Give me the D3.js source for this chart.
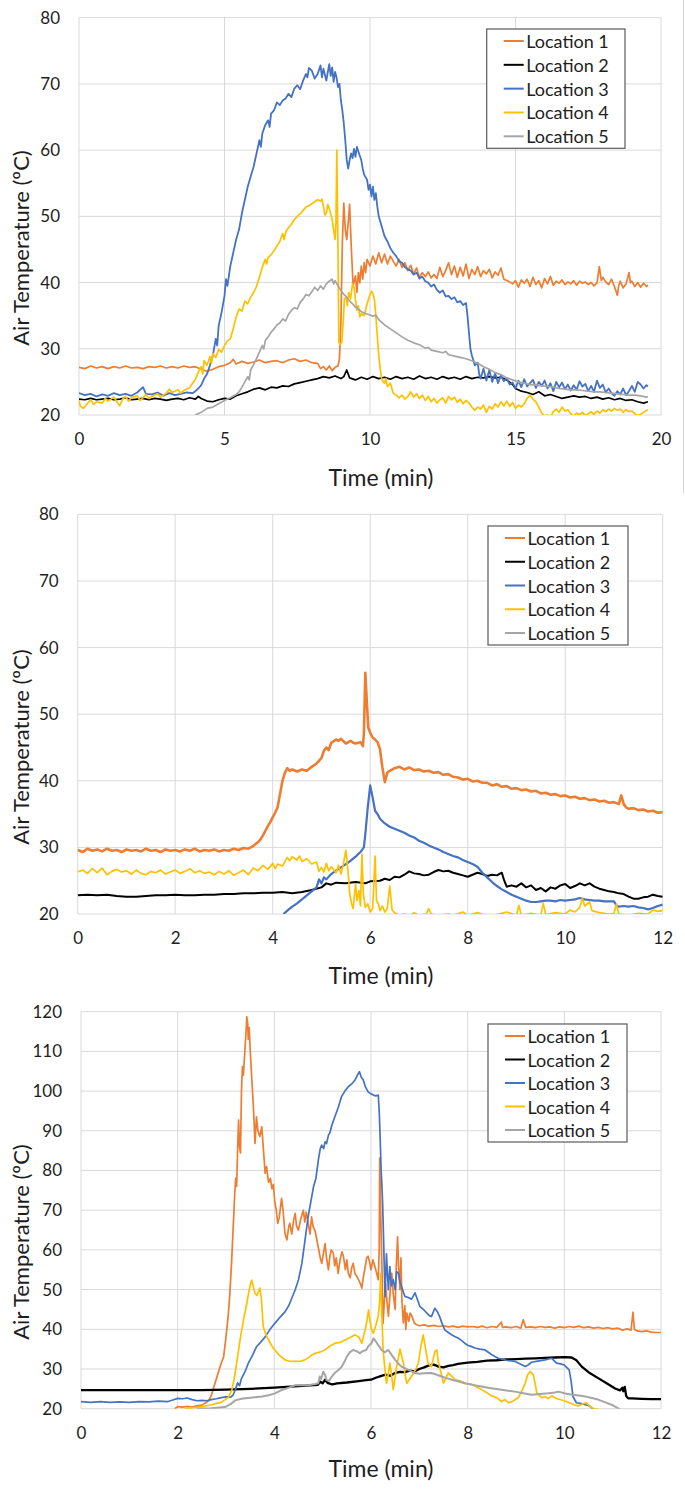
<!DOCTYPE html>
<html><head><meta charset="utf-8">
<script src="https://cdn.jsdelivr.net/npm/d3@7"></script>
<style>
body{margin:0;background:#fff}
svg{display:block}
text{font-family:Lato,"Open Sans",sans-serif;fill:#1e1e1e}
</style>
</head><body>
<svg id="c" width="685" height="1491"></svg>
<script>
// ---------- shared labels ----------
const seriesNames = ["Location 1","Location 2","Location 3","Location 4","Location 5"];
const seriesColors = ["#ED7D31","#000000","#4472C4","#FFC000","#A5A5A5"];
const xTitle = "Time (min)";
const yTitle = "Air Temperature (ºC)";

// ---------- chart 1 ----------
const c1XTicks = [0,5,10,15,20];
const c1YTicks = [20,30,40,50,60,70,80];
const c1L1 = [[0,27.2],[0.2,27.0],[0.4,27.4],[0.6,27.1],[0.8,27.3],[1.0,27.0],[1.2,27.3],[1.4,27.1],[1.6,27.4],[1.8,27.1],[2.0,27.2],[2.2,27.0],[2.4,27.3],[2.6,27.2],[2.8,27.4],[3.0,27.1],[3.2,27.3],[3.4,27.1],[3.6,27.4],[3.8,27.2],[4.0,27.3],[4.2,26.9],[4.4,26.6],[4.6,26.9],[4.8,27.3],[5.0,27.5],[5.2,27.9],[5.3,28.4],[5.4,27.7],[5.6,28.1],[5.8,27.8],[6.0,28.0],[6.2,28.3],[6.4,27.9],[6.6,28.1],[6.8,28.2],[7.0,27.9],[7.2,28.3],[7.4,28.5],[7.6,28.1],[7.8,28.3],[8.0,27.9],[8.2,27.8],[8.3,27.0],[8.4,27.3],[8.5,26.8],[8.6,27.4],[8.7,26.7],[8.8,27.2],[8.9,27.4],[8.95,28.5],[9.0,34],[9.05,46],[9.1,52],[9.15,48],[9.2,46.5],[9.25,49],[9.3,51.8],[9.35,46],[9.42,39.5],[9.5,41],[9.55,38.5],[9.6,41.5],[9.65,40],[9.7,42.5],[9.75,40.5],[9.8,43],[9.85,41.5],[9.9,43.5],[10.0,42.5],[10.1,44],[10.2,42.8],[10.3,44.5],[10.4,43],[10.5,44.3],[10.6,42.8],[10.7,44],[10.8,43.2],[10.9,42.5],[11.0,43.5],[11.1,42.3],[11.2,43],[11.3,41.8],[11.4,42.6],[11.5,41.3],[11.6,42.2],[11.7,40.8],[11.8,41.5],[11.9,40.9],[12.0,41.6],[12.1,40.7],[12.2,41.2],[12.3,40.6],[12.4,42.3],[12.5,40.9],[12.6,41.8],[12.7,43],[12.8,41.2],[12.9,42.5],[13.0,40.8],[13.1,42.3],[13.2,41],[13.3,42.8],[13.4,40.6],[13.5,42],[13.6,41.2],[13.7,42.4],[13.8,40.9],[13.9,41.8],[14.0,41.3],[14.1,42],[14.2,40.7],[14.3,41.6],[14.4,41.1],[14.5,42.2],[14.6,40.5],[14.7,40.3],[14.8,40.1],[14.9,39.8],[15.0,40.3],[15.1,39.3],[15.2,40.4],[15.3,39.9],[15.4,40.5],[15.5,39.4],[15.6,40.8],[15.7,39.7],[15.8,40.3],[15.9,39.2],[16.0,40.6],[16.1,39.8],[16.2,40.9],[16.3,39.6],[16.4,40.2],[16.5,39.9],[16.6,40.4],[16.7,39.7],[16.8,40.1],[16.9,39.8],[17.0,40.3],[17.1,39.6],[17.2,40.2],[17.3,39.9],[17.4,40.1],[17.5,39.7],[17.6,40.0],[17.7,39.5],[17.8,39.9],[17.88,42.4],[17.95,40.3],[18.0,40.8],[18.1,40.1],[18.2,39.7],[18.3,40.5],[18.4,39.4],[18.5,38.1],[18.55,39.6],[18.6,40.2],[18.7,39.2],[18.8,39.8],[18.9,41.5],[18.95,40],[19.0,40.2],[19.1,39.4],[19.2,40],[19.3,39.3],[19.4,39.9],[19.5,39.4],[19.55,39.6]];
const c1L2 = [[0,22.4],[0.2,22.3],[0.4,22.5],[0.6,22.3],[0.8,22.4],[1.0,22.5],[1.2,22.3],[1.4,22.4],[1.6,22.6],[1.8,22.3],[2.0,22.4],[2.2,22.5],[2.4,22.3],[2.6,22.5],[2.8,22.4],[3.0,22.2],[3.2,22.4],[3.4,22.5],[3.6,22.3],[3.8,22.6],[4.0,22.4],[4.1,22.8],[4.2,22.5],[4.4,22.1],[4.6,22.0],[4.8,22.3],[5.0,22.5],[5.2,22.4],[5.4,22.9],[5.6,23.2],[5.8,23.5],[6.0,23.9],[6.2,24.1],[6.4,23.8],[6.6,24.2],[6.8,24.1],[7.0,24.4],[7.2,24.3],[7.4,24.7],[7.6,24.9],[7.8,25.1],[8.0,25.3],[8.2,25.5],[8.4,25.8],[8.6,25.6],[8.8,25.9],[9.0,25.5],[9.1,25.8],[9.2,26.8],[9.3,25.6],[9.5,25.3],[9.7,25.7],[9.9,25.4],[10.1,25.8],[10.3,25.5],[10.5,25.7],[10.7,25.4],[10.9,25.8],[11.1,25.5],[11.3,25.7],[11.5,25.4],[11.7,25.9],[11.9,25.5],[12.1,25.7],[12.3,25.4],[12.5,25.8],[12.7,25.5],[12.9,25.7],[13.1,25.4],[13.3,25.8],[13.5,25.5],[13.7,25.7],[13.9,25.6],[14.1,25.8],[14.3,25.6],[14.5,25.7],[14.7,25.3],[14.9,24.6],[15.0,24.0],[15.2,23.6],[15.4,23.4],[15.6,23.1],[15.8,23.5],[16.0,22.9],[16.2,23.1],[16.4,22.8],[16.6,22.5],[16.8,22.7],[17.0,22.9],[17.2,22.7],[17.4,22.8],[17.6,22.5],[17.8,22.7],[18.0,22.4],[18.2,22.6],[18.4,22.3],[18.6,22.5],[18.8,22.2],[19.0,22.3],[19.2,22.0],[19.4,21.8],[19.55,22.0]];
const c1L3 = [[0,23.3],[0.2,23.0],[0.4,23.2],[0.6,22.8],[0.8,23.1],[1.0,22.9],[1.2,23.3],[1.4,23.0],[1.6,23.2],[1.8,22.9],[2.0,23.4],[2.2,24.2],[2.3,23.2],[2.5,23.1],[2.7,23.4],[2.9,22.9],[3.1,23.3],[3.3,23.0],[3.5,23.2],[3.7,23.4],[3.9,23.3],[4.0,23.6],[4.1,24.0],[4.2,24.5],[4.3,25.5],[4.4,26.2],[4.5,27.5],[4.6,29.0],[4.7,31.5],[4.75,30.5],[4.8,33.5],[4.9,35.5],[5.0,38],[5.05,40.5],[5.1,39.5],[5.2,42.5],[5.3,44.5],[5.4,46.5],[5.5,48],[5.6,50.5],[5.7,52.5],[5.8,54.5],[5.9,56],[6.0,57.5],[6.1,59.5],[6.2,61.5],[6.25,60.5],[6.3,62.5],[6.4,63.8],[6.5,64.5],[6.55,63.5],[6.6,65.5],[6.7,66],[6.8,67.2],[6.9,66.8],[7.0,67.5],[7.1,67.8],[7.2,68.5],[7.3,68.0],[7.4,69.3],[7.5,69.8],[7.6,69.2],[7.7,70.5],[7.8,71.5],[7.85,71.0],[7.9,72.4],[8.0,72.0],[8.1,70.8],[8.2,71.5],[8.3,72.8],[8.35,71.0],[8.4,72.3],[8.5,70.5],[8.55,71.8],[8.6,73.0],[8.65,71.2],[8.7,72.5],[8.75,70.3],[8.8,71.8],[8.85,71.0],[8.9,69.5],[8.95,70.0],[9.0,67.5],[9.05,66],[9.1,64],[9.15,61.5],[9.2,58.5],[9.25,57.2],[9.3,58.5],[9.35,59.5],[9.4,58.8],[9.45,60.2],[9.5,59.0],[9.55,60.5],[9.6,59.8],[9.7,58.5],[9.75,57.2],[9.8,56.3],[9.9,55.5],[9.95,54],[10.0,54.8],[10.05,53.0],[10.1,54.5],[10.15,52.5],[10.2,53.5],[10.25,51.5],[10.3,50],[10.4,48.5],[10.5,47],[10.6,46.2],[10.7,45.2],[10.8,44.5],[10.9,44.0],[11.0,43.2],[11.1,43.0],[11.2,42.3],[11.3,42.0],[11.4,41.8],[11.5,41.2],[11.6,41.5],[11.7,40.6],[11.8,40.9],[11.9,40.2],[12.0,40.0],[12.1,39.4],[12.2,39.7],[12.3,38.9],[12.4,38.5],[12.5,38.8],[12.6,37.9],[12.7,38.0],[12.8,37.5],[12.9,37.8],[13.0,37.0],[13.1,37.2],[13.2,36.6],[13.3,36.9],[13.35,35],[13.4,32.5],[13.45,30],[13.5,29],[13.55,28.3],[13.6,27.5],[13.7,27.9],[13.75,26.2],[13.8,25.5],[13.9,27.0],[14.0,25.2],[14.1,26.8],[14.2,25.0],[14.3,26.3],[14.4,24.8],[14.5,26.0],[14.6,25.1],[14.7,25.6],[14.8,24.6],[14.9,24.9],[15.0,24.0],[15.1,25.2],[15.2,24.2],[15.3,25.4],[15.4,24.3],[15.5,24.8],[15.6,25.3],[15.7,24.1],[15.8,25.0],[15.9,24.4],[16.0,25.2],[16.1,24.0],[16.2,24.8],[16.3,23.6],[16.4,25.0],[16.5,24.2],[16.6,24.9],[16.7,23.9],[16.8,24.6],[16.9,23.7],[17.0,24.5],[17.1,23.8],[17.2,25.1],[17.3,24.3],[17.4,24.7],[17.5,23.6],[17.6,24.4],[17.7,23.5],[17.8,25.2],[17.9,24.1],[18.0,24.6],[18.1,23.4],[18.2,24.0],[18.3,23.3],[18.4,22.9],[18.5,23.6],[18.6,23.1],[18.7,24.0],[18.8,23.0],[18.9,23.6],[19.0,24.4],[19.1,23.5],[19.2,25.0],[19.3,24.6],[19.4,24.0],[19.5,24.5],[19.55,24.3]];
const c1L4 = [[0,22.2],[0.05,21.3],[0.15,21.0],[0.3,21.8],[0.4,22.3],[0.5,21.6],[0.6,22.0],[0.8,21.8],[0.9,22.5],[1.0,22.1],[1.2,22.7],[1.3,22.0],[1.4,21.4],[1.5,22.4],[1.6,22.8],[1.7,22.1],[1.8,22.6],[2.0,22.9],[2.1,22.2],[2.2,22.6],[2.3,23.1],[2.4,22.5],[2.5,22.8],[2.7,23.2],[2.8,22.7],[3.0,23.3],[3.1,23.9],[3.2,23.4],[3.4,23.8],[3.5,23.3],[3.6,23.7],[3.8,24.1],[3.9,24.8],[4.0,25.4],[4.1,26.5],[4.2,27.3],[4.25,26.2],[4.3,28.2],[4.4,27.5],[4.5,28.8],[4.55,27.8],[4.6,29.3],[4.7,28.7],[4.8,29.9],[4.9,29.5],[5.0,30.5],[5.1,31.2],[5.2,31.5],[5.3,33],[5.4,34.8],[5.5,36],[5.6,35.7],[5.7,37.2],[5.8,36.8],[5.9,37.8],[6.0,38.5],[6.1,39.4],[6.2,40.8],[6.3,42.3],[6.4,43.5],[6.45,42.8],[6.5,43.8],[6.6,44.2],[6.7,44.8],[6.8,45.5],[6.9,46.2],[7.0,47.4],[7.05,46.5],[7.1,47.6],[7.2,48.3],[7.3,48.8],[7.4,49.5],[7.5,50.0],[7.6,50.4],[7.7,50.9],[7.8,51.4],[7.9,51.6],[8.0,51.9],[8.1,52.2],[8.2,52.5],[8.3,52.3],[8.35,52.6],[8.4,51.5],[8.45,50.2],[8.5,50.5],[8.55,51.8],[8.6,51.2],[8.7,49.5],[8.75,48.0],[8.8,46.5],[8.83,49],[8.86,60],[8.9,45],[8.93,31],[8.97,30.6],[9.03,31.0],[9.08,34],[9.12,37.5],[9.18,37.8],[9.22,36.5],[9.27,38.5],[9.33,37.5],[9.4,39.8],[9.45,39.3],[9.5,37.5],[9.55,35.8],[9.6,36.5],[9.65,34.8],[9.7,35.3],[9.8,35.0],[9.9,36.8],[9.95,37.5],[10.0,38.2],[10.05,38.7],[10.1,38.3],[10.15,37.5],[10.2,35],[10.25,32],[10.3,29],[10.35,27],[10.4,25.5],[10.45,25.0],[10.5,24.8],[10.55,25.5],[10.6,24.3],[10.7,24.8],[10.8,23.3],[10.9,23.0],[11.0,22.6],[11.1,23.0],[11.2,22.4],[11.3,22.8],[11.4,23.5],[11.5,22.7],[11.6,23.2],[11.7,22.5],[11.8,23.0],[11.9,22.2],[12.0,22.8],[12.1,22.0],[12.2,22.5],[12.3,21.8],[12.4,22.3],[12.5,22.6],[12.6,21.8],[12.7,22.8],[12.8,22.3],[12.9,22.7],[13.0,21.9],[13.1,22.4],[13.2,21.7],[13.3,22.2],[13.4,21.8],[13.5,21.2],[13.6,20.7],[13.7,21.2],[13.8,20.9],[13.9,21.5],[14.0,20.4],[14.1,21.3],[14.2,20.9],[14.3,21.7],[14.4,21.2],[14.5,22.0],[14.6,21.4],[14.7,22.1],[14.8,21.3],[14.9,21.9],[15.0,21.0],[15.1,21.5],[15.2,21.2],[15.3,21.7],[15.4,22.5],[15.5,23.0],[15.6,22.4],[15.7,22.0],[15.8,21.2],[15.9,20.3],[16.0,19.8],[16.1,20.0],[16.2,19.6],[16.3,20.5],[16.4,20.9],[16.5,20.4],[16.6,21.2],[16.7,20.6],[16.8,20.8],[16.9,20.2],[17.0,19.8],[17.1,20.3],[17.2,20.0],[17.3,20.4],[17.4,19.9],[17.5,20.2],[17.6,20.5],[17.7,20.1],[17.8,20.6],[17.9,20.3],[18.0,20.8],[18.1,20.5],[18.2,20.9],[18.3,20.6],[18.4,21.0],[18.5,20.7],[18.6,20.9],[18.7,20.4],[18.8,20.8],[18.9,20.5],[19.0,20.6],[19.1,20.2],[19.2,19.9],[19.3,20.1],[19.4,20.4],[19.5,20.7],[19.55,20.8]];
const c1L5 = [[4.0,20.0],[4.2,20.4],[4.4,21.0],[4.6,21.2],[4.8,21.7],[5.0,22.2],[5.2,22.6],[5.4,23.1],[5.5,23.5],[5.6,24.2],[5.7,25.0],[5.8,25.8],[5.85,25.3],[5.9,26.8],[6.0,27.6],[6.1,28.5],[6.2,29.5],[6.3,30.5],[6.35,30.0],[6.4,31.2],[6.5,31.8],[6.6,32.5],[6.7,33.0],[6.8,33.6],[6.9,33.9],[7.0,34.5],[7.1,34.2],[7.2,35.2],[7.3,35.8],[7.4,36.2],[7.5,36.0],[7.6,37.0],[7.7,37.5],[7.8,38.2],[7.9,38.0],[8.0,38.6],[8.1,39.3],[8.2,38.8],[8.3,39.5],[8.4,39.0],[8.5,39.8],[8.6,40.2],[8.7,40.5],[8.75,39.8],[8.8,40.3],[8.9,39.5],[9.0,38.8],[9.1,38.2],[9.2,37.8],[9.3,37.2],[9.4,36.8],[9.5,36.3],[9.6,36.0],[9.7,35.6],[9.8,35.4],[10.0,35.1],[10.1,34.9],[10.2,35.1],[10.3,34.4],[10.5,33.6],[10.7,33.0],[10.9,32.4],[11.1,31.8],[11.3,31.3],[11.5,30.9],[11.7,30.6],[11.9,30.1],[12.0,30.2],[12.1,29.8],[12.3,29.6],[12.5,29.4],[12.6,29.6],[12.7,29.1],[12.9,28.9],[13.1,28.7],[13.3,28.5],[13.5,28.2],[13.7,27.8],[13.9,27.3],[14.1,26.9],[14.3,26.4],[14.5,26.1],[14.7,25.6],[14.9,25.3],[15.1,25.0],[15.3,24.8],[15.5,24.6],[15.7,24.5],[15.9,24.4],[16.1,24.3],[16.3,24.2],[16.5,24.0],[16.7,23.9],[16.9,23.8],[17.1,23.8],[17.3,23.7],[17.5,23.6],[17.7,23.5],[17.9,23.5],[18.1,23.4],[18.3,23.3],[18.5,23.2],[18.7,23.1],[18.9,23.0],[19.1,23.0],[19.3,22.9],[19.5,22.7],[19.55,22.8]];

// ---------- chart 2 ----------
const c2XTicks = [0,2,4,6,8,10,12];
const c2YTicks = [20,30,40,50,60,70,80];
const c2L1 = [[0,29.6],[0.1,29.3],[0.2,29.8],[0.3,29.5],[0.4,29.7],[0.5,29.4],[0.6,29.8],[0.7,29.5],[0.8,29.6],[0.9,29.3],[1.0,29.7],[1.1,29.5],[1.2,29.6],[1.3,29.4],[1.4,29.8],[1.5,29.5],[1.6,29.6],[1.7,29.3],[1.8,29.7],[1.9,29.5],[2.0,29.6],[2.1,29.4],[2.2,29.7],[2.3,29.5],[2.4,29.8],[2.5,29.4],[2.6,29.6],[2.7,29.5],[2.8,29.7],[2.9,29.4],[3.0,29.6],[3.1,29.5],[3.2,29.8],[3.3,29.6],[3.4,29.9],[3.5,29.8],[3.6,30.2],[3.7,30.8],[3.75,31.2],[3.8,31.8],[3.85,32.5],[3.9,33.2],[3.95,33.8],[4.0,34.5],[4.05,35.2],[4.1,36.0],[4.15,38.0],[4.2,40.0],[4.25,41.2],[4.3,41.9],[4.35,41.5],[4.4,41.7],[4.5,41.4],[4.6,41.7],[4.7,41.5],[4.8,42.1],[4.9,42.6],[5.0,43.4],[5.05,44.5],[5.1,45.0],[5.15,44.6],[5.2,45.7],[5.3,46.2],[5.35,46.0],[5.4,46.3],[5.5,45.6],[5.6,46.0],[5.65,45.7],[5.7,45.6],[5.8,45.8],[5.85,45.2],[5.87,47],[5.9,56.2],[5.93,52],[5.96,48],[6.0,47.2],[6.05,46.5],[6.1,46.2],[6.15,45.8],[6.2,44.8],[6.25,42],[6.3,39.8],[6.35,41.2],[6.4,41.5],[6.5,41.9],[6.6,42.1],[6.7,41.7],[6.8,42.0],[6.9,41.6],[7.0,41.7],[7.1,41.4],[7.2,41.5],[7.3,41.2],[7.4,41.3],[7.5,40.9],[7.6,41.0],[7.7,40.6],[7.8,40.5],[7.9,40.2],[8.0,40.3],[8.1,39.9],[8.2,40.0],[8.3,39.7],[8.4,39.7],[8.5,39.3],[8.6,39.5],[8.7,39.1],[8.8,39.2],[8.9,38.8],[9.0,38.9],[9.1,38.6],[9.2,38.7],[9.3,38.4],[9.4,38.5],[9.5,38.1],[9.6,38.2],[9.7,37.9],[9.8,38.0],[9.9,37.7],[10.0,37.8],[10.1,37.5],[10.2,37.6],[10.3,37.3],[10.4,37.4],[10.5,37.1],[10.6,37.2],[10.7,36.9],[10.8,37.0],[10.9,36.7],[11.0,36.8],[11.1,36.5],[11.15,37.8],[11.2,36.5],[11.25,36.0],[11.3,35.8],[11.4,35.9],[11.5,35.6],[11.6,35.7],[11.7,35.4],[11.8,35.5],[11.9,35.2],[12.0,35.3]];
const c2L2 = [[0,22.8],[0.2,22.9],[0.4,22.8],[0.6,22.9],[0.8,22.7],[1.0,22.6],[1.2,22.6],[1.4,22.7],[1.6,22.8],[1.8,22.8],[2.0,22.9],[2.2,22.8],[2.4,22.8],[2.6,22.9],[2.8,22.9],[3.0,23.0],[3.2,23.0],[3.4,23.1],[3.6,23.1],[3.8,23.2],[4.0,23.2],[4.2,23.3],[4.4,23.1],[4.6,23.3],[4.8,23.6],[5.0,24.0],[5.1,24.6],[5.2,24.4],[5.3,24.7],[5.5,24.6],[5.7,24.8],[5.9,24.6],[6.0,24.9],[6.2,25.0],[6.3,25.3],[6.4,25.1],[6.5,25.6],[6.6,25.5],[6.7,25.9],[6.8,26.4],[6.9,26.1],[7.0,26.0],[7.1,25.8],[7.2,25.9],[7.3,26.3],[7.4,26.6],[7.5,26.4],[7.6,26.5],[7.7,26.2],[7.8,26.0],[7.9,25.8],[8.0,25.6],[8.1,25.9],[8.2,26.2],[8.3,26.0],[8.4,25.7],[8.5,25.9],[8.6,25.8],[8.7,26.2],[8.75,25.0],[8.8,24.1],[8.9,24.3],[9.0,24.1],[9.1,24.6],[9.2,24.0],[9.3,24.3],[9.4,23.6],[9.5,23.9],[9.6,23.4],[9.7,24.0],[9.8,23.8],[9.9,24.3],[10.0,24.5],[10.1,23.9],[10.2,24.2],[10.3,24.6],[10.4,24.3],[10.5,24.6],[10.6,24.1],[10.7,23.8],[10.8,23.6],[10.9,23.4],[11.0,23.3],[11.1,23.1],[11.2,23.0],[11.3,22.6],[11.4,22.3],[11.5,22.3],[11.6,22.5],[11.7,22.6],[11.8,22.9],[11.9,22.7],[12.0,22.6]];
const c2L3 = [[4.22,20.0],[4.3,20.5],[4.4,21.1],[4.5,21.6],[4.6,22.2],[4.7,22.8],[4.8,23.4],[4.9,24.0],[4.95,25.2],[5.0,24.6],[5.05,25.5],[5.1,25.2],[5.2,26.0],[5.3,26.5],[5.4,27.0],[5.5,27.5],[5.6,28.0],[5.7,28.6],[5.8,29.3],[5.87,30.0],[5.9,32],[5.95,36],[6.0,39.3],[6.05,37.5],[6.1,35.5],[6.15,35.0],[6.2,34.3],[6.3,33.6],[6.4,33.1],[6.5,32.8],[6.6,32.5],[6.7,32.2],[6.8,31.8],[6.9,31.5],[7.0,31.0],[7.1,30.7],[7.2,30.3],[7.3,30.0],[7.4,29.7],[7.5,29.3],[7.6,29.0],[7.7,28.7],[7.8,28.5],[7.9,28.1],[8.0,27.8],[8.1,27.5],[8.2,27.1],[8.3,26.2],[8.4,25.5],[8.5,24.8],[8.6,24.2],[8.7,23.7],[8.8,23.3],[8.9,22.9],[9.0,22.6],[9.1,22.3],[9.2,22.0],[9.3,21.8],[9.4,21.8],[9.5,21.9],[9.6,22.0],[9.7,22.0],[9.8,21.9],[9.9,22.1],[10.0,22.0],[10.1,22.1],[10.2,22.2],[10.3,22.4],[10.4,22.2],[10.5,22.1],[10.6,22.0],[10.7,22.0],[10.8,21.9],[10.9,21.9],[11.0,21.9],[11.05,21.3],[11.1,21.1],[11.2,21.2],[11.3,21.1],[11.4,21.2],[11.5,21.0],[11.6,20.9],[11.7,20.7],[11.8,20.9],[11.9,21.2],[12.0,21.4]];
const c2L4 = [[0,26.3],[0.1,26.6],[0.2,26.1],[0.3,26.8],[0.4,26.2],[0.5,26.9],[0.6,25.9],[0.7,26.4],[0.8,26.7],[0.9,26.3],[1.0,26.5],[1.1,26.0],[1.2,26.6],[1.3,26.1],[1.4,25.9],[1.5,26.4],[1.6,26.2],[1.7,26.6],[1.8,26.0],[1.9,26.3],[2.0,26.6],[2.1,26.1],[2.2,26.4],[2.3,26.8],[2.4,26.2],[2.5,26.5],[2.6,26.1],[2.7,26.3],[2.8,25.9],[2.9,26.4],[3.0,26.0],[3.1,26.5],[3.2,25.8],[3.3,26.2],[3.4,26.6],[3.5,25.9],[3.6,26.9],[3.7,26.5],[3.8,27.3],[3.9,26.7],[4.0,27.6],[4.05,26.8],[4.1,27.5],[4.2,27.2],[4.3,28.5],[4.35,28.0],[4.4,28.6],[4.5,28.1],[4.55,28.7],[4.6,27.9],[4.7,28.3],[4.8,27.5],[4.9,27.8],[4.95,26.4],[5.0,27.0],[5.05,26.3],[5.1,27.6],[5.15,26.5],[5.2,27.1],[5.3,26.2],[5.35,27.3],[5.4,26.0],[5.45,27.5],[5.5,29.6],[5.55,26],[5.58,23],[5.62,21.5],[5.65,20.8],[5.7,24.5],[5.73,22],[5.77,23.5],[5.8,21.2],[5.83,29.0],[5.86,23],[5.9,21.0],[5.95,21.5],[6.0,20.3],[6.05,20.8],[6.1,28.7],[6.13,22],[6.17,21.5],[6.2,20.5],[6.25,21.2],[6.3,20.3],[6.35,20.8],[6.4,24.2],[6.45,20.6],[6.5,20.2],[6.6,19.8],[6.7,20.0],[6.8,19.7],[6.9,20.2],[7.0,19.8],[7.15,20.0],[7.2,20.8],[7.25,20.0],[7.4,19.7],[7.6,20.0],[7.7,19.8],[7.9,20.3],[8.0,19.8],[8.2,20.2],[8.4,19.7],[8.6,19.9],[8.8,20.3],[9.0,19.8],[9.05,21.3],[9.1,19.8],[9.3,20.1],[9.5,19.8],[9.55,21.6],[9.6,19.9],[9.8,20.2],[10.0,20.0],[10.1,20.6],[10.2,20.3],[10.3,21.0],[10.35,22.4],[10.4,21.2],[10.5,21.8],[10.55,20.5],[10.7,20.2],[10.9,20.0],[11.0,20.1],[11.05,21.5],[11.1,20.0],[11.3,19.8],[11.5,20.1],[11.7,20.0],[11.8,20.6],[11.9,20.4],[12.0,20.5]];
const c2L5 = [];

// ---------- chart 3 ----------
const c3XTicks = [0,2,4,6,8,10,12];
const c3YTicks = [20,30,40,50,60,70,80,90,100,110,120];
const c3L1 = [[1.94,20.0],[2.0,20.5],[2.1,20.4],[2.2,20.6],[2.3,20.4],[2.4,20.7],[2.5,20.9],[2.6,21.6],[2.65,22.2],[2.7,23.5],[2.75,25.5],[2.8,27.5],[2.85,29.5],[2.9,31.4],[2.95,33],[3.0,38.1],[3.05,44],[3.08,49],[3.12,58],[3.15,66],[3.18,74],[3.2,78],[3.22,76],[3.24,85],[3.26,92.7],[3.28,86],[3.3,84.4],[3.32,100],[3.34,106.2],[3.36,104],[3.38,108],[3.4,112],[3.42,116],[3.43,118.7],[3.45,117],[3.46,113],[3.48,116],[3.5,110.5],[3.53,104],[3.57,95.3],[3.6,86.8],[3.63,93.5],[3.66,90],[3.7,88.6],[3.74,91],[3.77,86],[3.81,79.3],[3.84,81],[3.88,77],[3.92,78],[3.95,75.4],[3.98,76.5],[4.01,72],[4.04,70],[4.07,66.7],[4.1,68],[4.15,73],[4.18,70],[4.22,64.2],[4.26,62.5],[4.3,66],[4.32,66.7],[4.36,64],[4.4,67.5],[4.43,69.2],[4.46,66],[4.5,65],[4.55,68],[4.6,70],[4.63,67],[4.66,69.5],[4.7,66.7],[4.74,64],[4.77,68.3],[4.8,66],[4.85,64.5],[4.88,62.5],[4.92,60],[4.95,58],[4.98,56.6],[5.02,59.5],[5.05,61.6],[5.08,58],[5.12,55],[5.15,58.5],[5.18,60],[5.22,59.2],[5.25,56],[5.28,58],[5.32,54.1],[5.36,57.5],[5.4,59.5],[5.43,58.4],[5.47,55],[5.5,57.5],[5.53,54.1],[5.57,53],[5.6,55.5],[5.63,56.6],[5.67,54],[5.7,53.5],[5.74,52.5],[5.78,51.5],[5.81,50.4],[5.84,53],[5.88,55.8],[5.91,58],[5.94,58.4],[5.97,57],[6.0,55],[6.04,57.5],[6.08,55.8],[6.12,54],[6.15,52.5],[6.17,60],[6.18,83.1],[6.2,70],[6.22,59.2],[6.25,41.5],[6.28,48],[6.3,51.6],[6.33,47],[6.36,43.3],[6.4,50],[6.43,54.1],[6.46,49],[6.5,45],[6.52,55],[6.55,63.3],[6.57,56],[6.6,50],[6.62,58],[6.64,47],[6.67,41.6],[6.7,46],[6.72,40],[6.74,44.1],[6.78,42],[6.81,44.1],[6.84,43.5],[6.87,42.5],[6.9,41.5],[6.94,41.2],[7.0,40.9],[7.1,41.1],[7.2,40.8],[7.3,41.0],[7.4,40.7],[7.5,40.9],[7.6,40.6],[7.7,40.8],[7.8,40.5],[7.9,40.8],[8.0,40.6],[8.1,40.7],[8.2,40.5],[8.3,40.8],[8.4,40.4],[8.5,40.7],[8.6,40.5],[8.7,41.8],[8.72,40.5],[8.8,40.6],[8.9,40.4],[9.0,40.7],[9.1,40.3],[9.15,42.4],[9.2,40.5],[9.3,40.6],[9.4,40.4],[9.5,40.7],[9.6,40.5],[9.7,40.6],[9.8,40.3],[9.9,40.6],[10.0,40.4],[10.1,40.7],[10.2,40.5],[10.3,40.8],[10.4,40.4],[10.5,40.6],[10.6,40.3],[10.7,40.5],[10.8,40.2],[10.9,40.4],[11.0,40.1],[11.1,40.3],[11.2,39.8],[11.3,40.1],[11.38,39.8],[11.42,44.3],[11.45,40.0],[11.5,39.6],[11.6,39.4],[11.7,39.6],[11.8,39.3],[11.9,39.2],[12.0,39.2]];
const c3L2 = [[0,24.7],[0.5,24.7],[1.0,24.7],[1.5,24.7],[2.0,24.7],[2.5,24.7],[3.0,24.8],[3.5,25.0],[4.0,25.3],[4.5,25.7],[4.9,26.0],[4.95,26.8],[5.0,26.4],[5.05,27.3],[5.1,26.5],[5.2,26.1],[5.3,26.4],[5.5,26.6],[5.7,26.9],[5.9,27.2],[6.0,27.3],[6.1,27.8],[6.2,28.2],[6.3,28.6],[6.4,28.3],[6.5,29.0],[6.6,29.3],[6.7,29.2],[6.8,29.6],[6.9,29.4],[7.0,30.0],[7.1,30.4],[7.2,30.9],[7.3,31.1],[7.4,30.6],[7.5,30.4],[7.6,30.8],[7.7,31.0],[7.8,31.3],[8.0,31.6],[8.2,31.8],[8.4,32.1],[8.6,32.2],[8.8,32.4],[9.0,32.5],[9.2,32.6],[9.4,32.7],[9.6,32.8],[9.8,32.9],[10.0,33.0],[10.15,32.9],[10.25,32.2],[10.36,30.6],[10.5,29.2],[10.7,27.7],[10.9,26.2],[11.05,25.1],[11.15,24.6],[11.2,25.3],[11.22,24.4],[11.25,25.5],[11.28,23.2],[11.32,22.6],[11.4,22.6],[11.6,22.5],[11.8,22.4],[12.0,22.4]];
const c3L3 = [[0,21.8],[0.2,21.6],[0.4,21.8],[0.6,21.6],[0.8,21.7],[1.0,21.6],[1.2,21.8],[1.4,21.7],[1.6,21.9],[1.8,21.8],[1.9,22.2],[2.0,22.6],[2.1,22.5],[2.2,22.7],[2.3,22.3],[2.4,22.0],[2.5,22.1],[2.6,22.0],[2.7,22.3],[2.8,22.5],[2.9,22.8],[3.0,23.0],[3.1,22.9],[3.15,23.5],[3.19,24.7],[3.24,26.5],[3.28,25.8],[3.32,27.6],[3.4,29.5],[3.46,31.4],[3.55,33.5],[3.63,35.6],[3.7,36.5],[3.81,38.1],[3.9,39.8],[4.01,41.5],[4.1,42.8],[4.22,44.4],[4.3,46],[4.43,49.9],[4.5,52.5],[4.57,56.6],[4.63,62],[4.7,68.4],[4.76,72.5],[4.81,75.9],[4.86,78],[4.91,82.6],[4.95,85.5],[4.98,86.4],[5.02,85.5],[5.05,87.2],[5.08,86.8],[5.12,88.9],[5.15,89.5],[5.19,91.4],[5.25,93.5],[5.32,95.8],[5.39,98.6],[5.46,100],[5.53,101.1],[5.6,101.8],[5.67,102.8],[5.72,104],[5.76,104.9],[5.8,103.5],[5.84,102.8],[5.88,101.2],[5.94,99.8],[6.0,99.3],[6.05,99],[6.1,98.8],[6.15,99.0],[6.17,95],[6.19,88],[6.21,80],[6.22,77.6],[6.24,72],[6.25,67.5],[6.27,58],[6.29,48.2],[6.32,59],[6.34,54],[6.36,50],[6.39,55.8],[6.42,51],[6.46,52.5],[6.5,50],[6.53,54.5],[6.57,54.1],[6.6,52],[6.63,50.8],[6.7,48.3],[6.77,48],[6.84,47.6],[6.91,49.2],[6.96,47.5],[7.01,45.8],[7.1,44.8],[7.2,43.5],[7.25,43.2],[7.32,45.3],[7.37,44.5],[7.42,43.2],[7.47,41.5],[7.53,39.8],[7.6,39.2],[7.67,38.6],[7.73,38.2],[7.8,37.8],[7.87,37.2],[7.94,36.5],[8.0,36.0],[8.07,35.7],[8.15,35.3],[8.25,35.0],[8.36,34.8],[8.5,33.6],[8.63,32.7],[8.8,32.2],[8.98,31.9],[9.1,31.2],[9.19,30.6],[9.25,31.0],[9.32,31.7],[9.45,32.0],[9.6,32.3],[9.74,32.7],[9.84,31.5],[9.92,31.3],[10.0,31.0],[10.1,29.8],[10.14,27],[10.18,23.0],[10.25,21.5],[10.35,21.3],[10.43,21.0],[10.5,20.8],[10.56,20.3],[10.6,19.8]];
const c3L4 = [[2.15,20.0],[2.3,20.2],[2.5,20.5],[2.7,21.0],[2.9,21.6],[3.05,22.9],[3.12,24.7],[3.17,27.5],[3.22,31.4],[3.29,37.3],[3.36,42.3],[3.43,46.5],[3.48,50],[3.53,52.4],[3.57,50.5],[3.6,49.1],[3.64,48.5],[3.7,50.4],[3.73,48],[3.77,40.7],[3.83,38.5],[3.88,37.3],[3.95,35.8],[4.01,34.8],[4.1,33.5],[4.22,32.3],[4.3,32.0],[4.43,31.9],[4.55,32.0],[4.63,32.3],[4.7,32.8],[4.77,33.5],[4.84,33.9],[4.95,34.3],[5.05,34.8],[5.15,35.8],[5.26,36.5],[5.36,36.7],[5.46,37.3],[5.55,37.8],[5.67,38.6],[5.75,38.0],[5.81,36.5],[5.85,38.5],[5.88,39.8],[5.92,42.5],[5.95,44.9],[5.98,42],[6.01,39.9],[6.05,39],[6.1,41],[6.15,43.3],[6.18,47],[6.2,54.1],[6.22,45],[6.25,35],[6.28,31],[6.32,26.4],[6.36,29],[6.39,31.5],[6.43,28],[6.46,24.8],[6.5,28],[6.53,30.6],[6.57,33],[6.6,35],[6.63,33.5],[6.67,31.5],[6.7,29],[6.74,26.4],[6.8,27.5],[6.88,29],[6.93,30],[6.98,31.5],[7.03,35.5],[7.08,38.6],[7.13,35],[7.18,31.5],[7.25,30.6],[7.32,34.3],[7.36,34.8],[7.39,32],[7.45,29],[7.5,26.4],[7.6,29],[7.67,28.2],[7.74,27.3],[7.85,27.0],[7.94,26.4],[8.08,26.2],[8.18,25.5],[8.29,24.8],[8.4,24.0],[8.5,23.2],[8.6,22.8],[8.7,21.8],[8.77,22.3],[8.85,21.5],[8.95,22.0],[9.05,22.8],[9.12,24.5],[9.19,26.4],[9.24,28.5],[9.29,29.4],[9.36,28.5],[9.4,26],[9.43,24],[9.53,22.8],[9.6,23.0],[9.67,22.6],[9.74,23.2],[9.85,22.5],[10.0,22.0],[10.1,21.5],[10.2,21.0],[10.29,20.7],[10.38,21.2],[10.46,21.5],[10.51,20.8],[10.56,20.3],[10.62,20.0],[10.7,19.8]];
const c3L5 = [[2.4,20.0],[2.7,20.1],[2.98,20.4],[3.1,21.2],[3.19,22.1],[3.32,22.5],[3.45,22.7],[3.6,22.9],[3.75,23.1],[3.88,23.4],[4.0,23.8],[4.15,24.7],[4.3,25.3],[4.43,25.9],[4.55,26.0],[4.7,25.9],[4.85,26.2],[4.91,26.4],[4.94,28.1],[4.97,27.5],[5.01,29.3],[5.05,28.5],[5.08,27.2],[5.13,27.0],[5.19,28.1],[5.25,29.0],[5.32,29.7],[5.39,30.5],[5.45,31.8],[5.5,33.1],[5.56,34.2],[5.63,34.8],[5.7,34.5],[5.77,34.0],[5.83,34.5],[5.9,34.8],[5.95,35.8],[6.01,36.5],[6.05,37.7],[6.08,37.3],[6.15,36.0],[6.22,34.8],[6.28,34.2],[6.36,34.8],[6.43,33.5],[6.5,32.3],[6.57,31.3],[6.63,30.6],[6.7,30.2],[6.77,29.8],[6.84,29.4],[6.91,29.0],[7.0,28.8],[7.1,28.9],[7.25,29.0],[7.35,28.6],[7.46,28.1],[7.56,27.7],[7.67,27.3],[7.8,26.9],[7.94,26.4],[8.1,26.0],[8.29,25.6],[8.45,25.2],[8.63,24.9],[8.8,24.6],[8.98,24.3],[9.15,23.9],[9.32,23.5],[9.5,23.7],[9.67,23.9],[9.8,24.1],[9.88,24.3],[10.0,23.9],[10.15,23.5],[10.3,23.3],[10.43,23.1],[10.57,22.7],[10.7,22.3],[10.85,21.6],[10.98,21.0],[11.05,20.5],[11.1,20.2],[11.15,19.8]];

// ---------- layout ----------
const charts = [
  {id:1, series:[c1L1,c1L2,c1L3,c1L4,c1L5], xTicks:c1XTicks, yTicks:c1YTicks,
   left:79, right:661, top:17.7, bottom:415, sw:[1.7,1.7,1.8,1.7,1.7],
   legend:{x:486.7, y:29, w:138.3, h:119.3}, titleY:476.7, yTitleY:248},
  {id:2, series:[c2L1,c2L2,c2L3,c2L4,c2L5], xTicks:c2XTicks, yTicks:c2YTicks,
   left:77.7, right:662.7, top:514.4, bottom:914, sw:[2.6,2.0,2.2,1.7,1.7],
   legend:{x:488, y:526, w:140, h:119}, titleY:975, yTitleY:747},
  {id:3, series:[c3L1,c3L2,c3L3,c3L4,c3L5], xTicks:c3XTicks, yTicks:c3YTicks,
   left:81, right:661, top:1011.7, bottom:1408.7, sw:[1.7,2.3,1.7,1.7,2.0],
   legend:{x:488, y:1024, w:139, h:118}, titleY:1468, yTitleY:1242}
];

const svg = d3.select("#c");
svg.append("rect").attr("width",685).attr("height",1491).attr("fill","#fff");
// faint border line at right edge of the first panel
svg.append("line").attr("x1",683.5).attr("x2",683.5).attr("y1",0).attr("y2",493)
  .attr("stroke","#d6d6d6").attr("stroke-width",1);

charts.forEach(c => {
  const xDom = [c.xTicks[0], c.xTicks[c.xTicks.length-1]];
  const yDom = [c.yTicks[0], c.yTicks[c.yTicks.length-1]];
  const x = d3.scaleLinear().domain(xDom).range([c.left, c.right]);
  const y = d3.scaleLinear().domain(yDom).range([c.bottom, c.top]);
  const g = svg.append("g");

  // grid
  g.append("g").selectAll("line").data(c.yTicks).join("line")
    .attr("x1",c.left).attr("x2",c.right)
    .attr("y1",d=>y(d)).attr("y2",d=>y(d))
    .attr("stroke","#d9d9d9").attr("stroke-width",1);
  g.append("g").selectAll("line").data(c.xTicks).join("line")
    .attr("y1",c.top).attr("y2",c.bottom)
    .attr("x1",d=>x(d)).attr("x2",d=>x(d))
    .attr("stroke","#d9d9d9").attr("stroke-width",1);

  // axes labels via d3 axes (no domain/tick lines)
  const ya = g.append("g").attr("transform",`translate(${c.left},0)`)
    .call(d3.axisLeft(y).tickValues(c.yTicks).tickSize(0).tickPadding(19).tickFormat(d3.format("d")));
  ya.select(".domain").remove();
  ya.selectAll("text").attr("font-size",17).attr("font-family","Lato").attr("fill","#1e1e1e");
  const xa = g.append("g").attr("transform",`translate(0,${c.bottom})`)
    .call(d3.axisBottom(x).tickValues(c.xTicks).tickSize(0).tickPadding(18).tickFormat(d3.format("d")));
  xa.select(".domain").remove();
  xa.selectAll("text").attr("font-size",17).attr("font-family","Lato").attr("fill","#1e1e1e");

  // titles
  g.append("text").attr("x",381).attr("y",c.titleY).attr("text-anchor","middle")
    .attr("dominant-baseline","central").attr("font-size",23).text(xTitle);
  g.append("text").attr("transform",`translate(20,${c.yTitleY}) rotate(-90)`)
    .attr("text-anchor","middle").attr("dominant-baseline","central")
    .attr("font-size",22).text(yTitle);

  // lines
  const clipId = "clip"+c.id;
  svg.append("clipPath").attr("id",clipId).append("rect")
    .attr("x",c.left).attr("y",c.top).attr("width",c.right-c.left).attr("height",c.bottom-c.top);
  const line = d3.line().x(d=>x(d[0])).y(d=>y(d[1]));
  const lg = g.append("g").attr("clip-path",`url(#${clipId})`);
  c.series.forEach((s,i) => {
    if (!s.length) return;
    lg.append("path").datum(s).attr("d",line).attr("fill","none")
      .attr("stroke",seriesColors[i]).attr("stroke-width",c.sw[i])
      .attr("stroke-linejoin","round");
  });

  // legend
  const L = c.legend;
  const leg = g.append("g");
  leg.append("rect").attr("x",L.x).attr("y",L.y).attr("width",L.w).attr("height",L.h)
    .attr("fill","#fff").attr("stroke","#5a5a5a").attr("stroke-width",1.2);
  const step = (L.h - 24)/4;
  seriesNames.forEach((n,i) => {
    const yy = L.y + 12 + step*i;
    leg.append("line").attr("x1",L.x+17).attr("x2",L.x+37).attr("y1",yy).attr("y2",yy)
      .attr("stroke",seriesColors[i]).attr("stroke-width",2);
    leg.append("text").attr("x",L.x+39.5).attr("y",yy).attr("dominant-baseline","central")
      .attr("font-size",18).text(n);
  });
});
</script>
</body></html>
